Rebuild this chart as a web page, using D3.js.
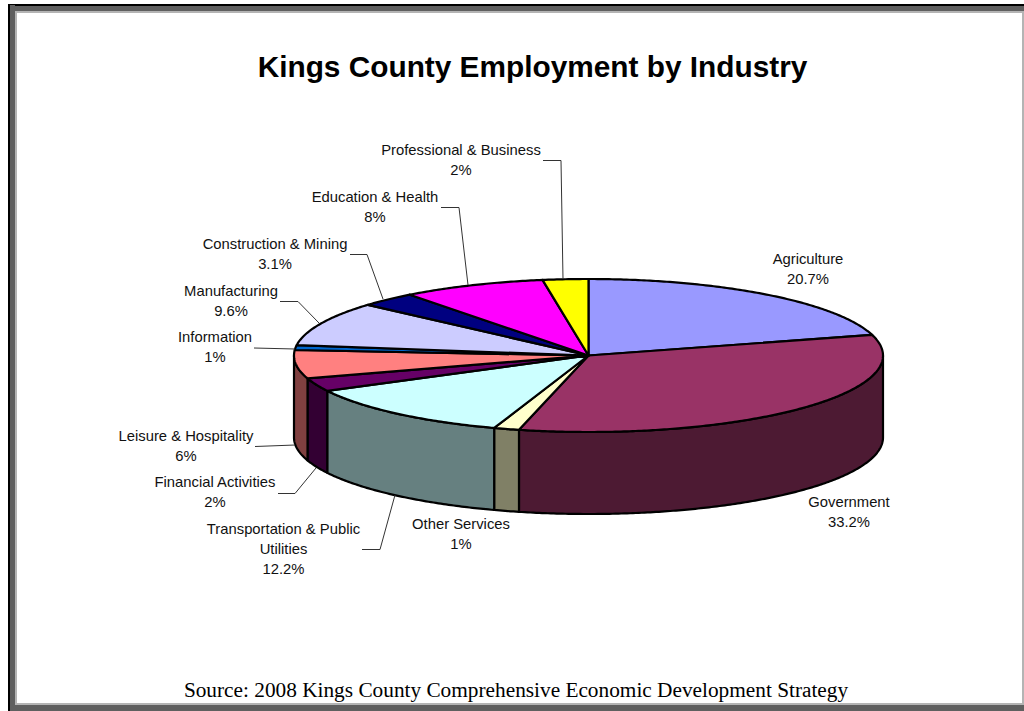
<!DOCTYPE html>
<html><head><meta charset="utf-8">
<script src="https://cdn.jsdelivr.net/npm/d3@7"></script>
<style>html,body{margin:0;padding:0;background:#fff;overflow:hidden}svg{display:block}</style>
</head><body><div id="chart"></div>
<script>
const titleText = "Kings County Employment by Industry";
const sourceText = "Source: 2008 Kings County Comprehensive Economic Development Strategy";
const categories = ["Agriculture","Government","Other Services","Transportation & Public Utilities","Financial Activities","Leisure & Hospitality","Information","Manufacturing","Construction & Mining","Education & Health","Professional & Business"];
const labelValues = ["20.7%","33.2%","1%","12.2%","2%","6%","1%","9.6%","3.1%","8%","2%"];
const sliceShares = [20.7,33.2,1.4,12.2,2.8,6,1,9.4,3.1,7.9,2.5];
const topColors = ["#9999FF","#993366","#FFFFCC","#CCFFFF","#660066","#FF8080","#0066CC","#CCCCFF","#000080","#FF00FF","#FFFF00"];
const sideColors = ["#4D4D80","#4D1A33","#808066","#668080","#330033","#804040","#003366","#666680","#000040","#800080","#808000"];

// layout, separate from the data
const W=1024,H=711, cx=588.5, cy=355.5, rx=294.5, ry=76.5, depth=82;
const labelLayout = [
 {x:808,y:259,lines:["Agriculture"]},
 {x:849,y:502,lines:["Government"]},
 {x:461,y:524,lines:["Other Services"]},
 {x:283.5,y:529,lines:["Transportation & Public","Utilities"]},
 {x:215,y:482,lines:["Financial Activities"]},
 {x:186,y:436,lines:["Leisure & Hospitality"]},
 {x:215,y:337,lines:["Information"]},
 {x:231,y:291,lines:["Manufacturing"]},
 {x:275,y:244,lines:["Construction & Mining"]},
 {x:375,y:197,lines:["Education & Health"]},
 {x:461,y:150,lines:["Professional & Business"]}
];
const leaderLayout = [
 null,null,null,
 [[362,549.5],[380,549.5],[395,495]],
 [[278,493.5],[295,493.5],[316,468]],
 [[255,446.5],[295,445]],
 [[254,348],[295,349]],
 [[280,301.5],[298,301.5],[319,323]],
 [[350,254.5],[367,254.5],[383,299]],
 [[441,207.5],[459,207.5],[468,285]],
 [[543,160.5],[561,160.5],[563,279]]
];

const svg=d3.select("#chart").append("svg").attr("width",W).attr("height",H);
svg.append("rect").attr("width",W).attr("height",H).attr("fill","#fff");

// frame
const frame=[
 [8,4,W-8,2,"#000"],[8,4,2,H-4,"#000"],
 [10,6,W-10,5,"#5f5f5f"],[10,5,5,H-5,"#5f5f5f"],
 [15,11,W-15,2,"#b4b4b4"],[15,11,2,H-11,"#b4b4b4"],
 [W-2,11,2,H-11,"#b4b4b4"],[15,703,W-15,2,"#b4b4b4"],
 [10,705,W-10,6,"#5f5f5f"]];
frame.forEach(f=>svg.append("rect").attr("x",f[0]).attr("y",f[1]).attr("width",f[2]).attr("height",f[3]).attr("fill",f[4]));

svg.append("text").attr("x",532.5).attr("y",77).attr("text-anchor","middle")
 .attr("font-family","Liberation Sans").attr("font-weight","bold").attr("font-size",29.8).attr("fill","#000").text(titleText);
svg.append("text").attr("x",516).attr("y",697).attr("text-anchor","middle")
 .attr("font-family","Liberation Serif").attr("font-size",21.3).attr("fill","#000").text(sourceText);

const xs=d3.scaleLinear().domain([-1,1]).range([cx-rx,cx+rx]);
const ys=d3.scaleLinear().domain([-1,1]).range([cy-ry,cy+ry]);
const arcs=d3.pie().sort(null).value(d=>d)(sliceShares);
const px=t=>xs(Math.sin(t)), py=t=>ys(-Math.cos(t));
const line=d3.line();
const samples=(a,b)=>{const n=Math.max(2,Math.ceil((b-a)/0.01));return d3.range(n+1).map(i=>a+(b-a)*i/n);};

const gSide=svg.append("g"), gTop=svg.append("g"), gLead=svg.append("g"), gText=svg.append("g");
const sw=2.2;
arcs.forEach((d,i)=>{
  const a=Math.max(d.startAngle,Math.PI/2), b=Math.min(d.endAngle,3*Math.PI/2);
  if(b<=a) return;
  const ts=samples(a,b);
  const pts=ts.map(t=>[px(t),py(t)]).concat(ts.slice().reverse().map(t=>[px(t),py(t)+depth]));
  gSide.append("path").attr("d",line(pts)+"Z").attr("fill",sideColors[i]).attr("stroke","#000").attr("stroke-width",sw).attr("stroke-linejoin","round");
});
arcs.forEach((d,i)=>{
  const pts=[[xs(0),ys(0)]].concat(samples(d.startAngle,d.endAngle).map(t=>[px(t),py(t)]));
  gTop.append("path").attr("d",line(pts)+"Z").attr("fill",topColors[i]).attr("stroke","#000").attr("stroke-width",sw).attr("stroke-linejoin","round");
});
leaderLayout.forEach(p=>{ if(p) gLead.append("path").attr("d",line(p)).attr("fill","none").attr("stroke","#333").attr("stroke-width",1); });
categories.forEach((c,i)=>{
  const l=labelLayout[i];
  l.lines.concat([labelValues[i]]).forEach((s,k)=>{
    gText.append("text").attr("x",l.x).attr("y",l.y+5+k*20).attr("text-anchor","middle")
      .attr("font-family","Liberation Sans").attr("font-size",14.8).attr("fill","#111").text(s);
  });
});
</script></body></html>
